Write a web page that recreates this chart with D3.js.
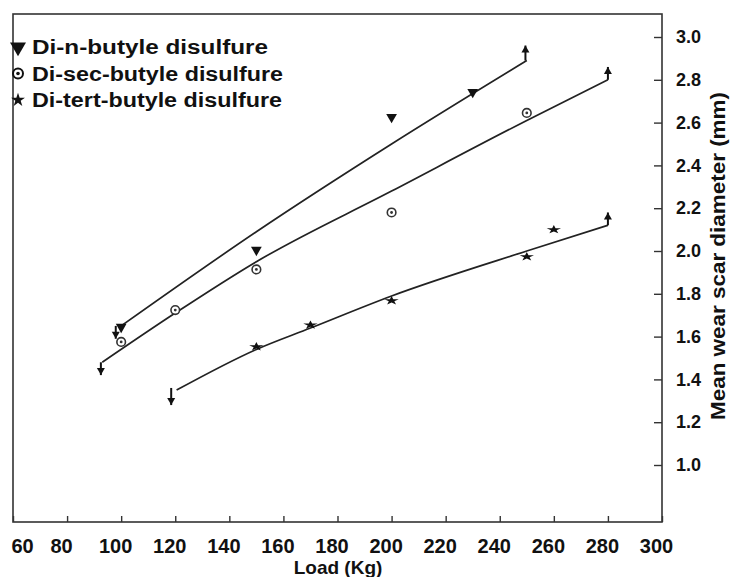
<!DOCTYPE html>
<html lang="en">
<head>
	<script src="https://d3js.org/d3.v7.min.js"></script>
	<style>
		body { margin: 0; background: #fff; }
		text { font-family: "Liberation Sans", Arial, sans-serif; fill: #111; }
	</style>
</head>
<body>
	<script type="text/javascript">

		var svgWidth = 731;
		var svgHeight = 577;

		// plot box (pixels)
		var boxLeft = 13, boxRight = 662, boxTop = 14, boxBottom = 522;

		// tick labels
		var loadTicks = [60, 80, 100, 120, 140, 160, 180, 200, 220, 240, 260, 280, 300];
		var scarTicks = [1.0, 1.2, 1.4, 1.6, 1.8, 2.0, 2.2, 2.4, 2.6, 2.8, 3.0];

		var seriesNames = ["Di-n-butyle disulfure", "Di-sec-butyle disulfure", "Di-tert-butyle disulfure"];

		// measured points [load, scar diameter]
		var nButylPoints = [[100, 1.645], [150, 2.005], [200, 2.626], [230, 2.743]];
		var secButylPoints = [[100, 1.575], [120, 1.724], [150, 1.914], [200, 2.18], [250, 2.645]];
		var tertButylPoints = [[150, 1.553], [170, 1.654], [200, 1.768], [250, 1.973], [260, 2.10]];

		// fitted curves
		var nButylFit = [[100, 1.65], [150, 2.09], [200, 2.50], [250, 2.89]];
		var secButylFit = [[93, 1.48], [120, 1.71], [150, 1.95], [200, 2.28], [250, 2.61], [280, 2.80]];
		var tertButylFit = [[120.5, 1.35], [150, 1.54], [170, 1.64], [200, 1.79], [250, 2.00], [280, 2.12]];

		// end arrows [load, from, to]
		var lowArrows = [[98, 1.65, 1.59], [92.5, 1.48, 1.42], [118.5, 1.36, 1.28]];
		var highArrows = [[249.5, 2.89, 2.96], [280, 2.80, 2.86], [280, 2.12, 2.18]];

		var svg = d3.select("body")
			.append("svg")
			.attr("width", svgWidth)
			.attr("height", svgHeight);

		var x = d3.scaleLinear()
			.domain([60, 300])
			.range([boxLeft, boxRight]);

		var y = d3.scaleLinear()
			.domain([1.0, 3.0])
			.range([465, 37]);

		//frame
		svg.append("rect")
			.attr("x", boxLeft)
			.attr("y", boxTop)
			.attr("width", boxRight - boxLeft)
			.attr("height", boxBottom - boxTop)
			.attr("fill", "none")
			.attr("stroke", "#333")
			.attr("stroke-width", 1.6);

		//bottom axis, ticks pointing inward
		var xAxis = d3.axisBottom(x)
			.tickValues(loadTicks)
			.tickSizeInner(-6)
			.tickSizeOuter(0)
			.tickPadding(17)
			.tickFormat(d3.format("d"));

		var gx = svg.append("g")
			.attr("transform", "translate(0," + boxBottom + ")")
			.call(xAxis);
		gx.select(".domain").remove();
		gx.selectAll("line").attr("stroke", "#333").attr("stroke-width", 1.4);
		gx.selectAll("text")
			.attr("dx", function(d) { return d == 60 ? 9 : -6; })
			.style("font-size", "20px")
			.style("font-weight", "bold")
			.style("font-family", "'Liberation Sans', Arial, sans-serif");

		//right axis
		var yAxis = d3.axisRight(y)
			.tickValues(scarTicks)
			.tickSizeInner(-8)
			.tickSizeOuter(0)
			.tickPadding(14)
			.tickFormat(d3.format(".1f"));

		var gy = svg.append("g")
			.attr("transform", "translate(" + boxRight + ",0)")
			.call(yAxis);
		gy.select(".domain").remove();
		gy.selectAll("line").attr("stroke", "#333").attr("stroke-width", 1.4);
		gy.selectAll("text")
			.style("font-size", "18px")
			.style("font-weight", "bold")
			.style("font-family", "'Liberation Sans', Arial, sans-serif");

		//axis titles
		svg.append("text")
			.attr("x", 338)
			.attr("y", 574)
			.attr("text-anchor", "middle")
			.style("font-size", "19px")
			.style("font-weight", "bold")
			.text("Load (Kg)");

		svg.append("text")
			.attr("transform", "translate(725,256) rotate(-90)")
			.attr("text-anchor", "middle")
			.attr("textLength", 328)
			.attr("lengthAdjust", "spacingAndGlyphs")
			.style("font-size", "21px")
			.style("font-weight", "bold")
			.text("Mean wear scar diameter (mm)");

		//fitted curves
		var fitLine = d3.line()
			.x(function(d) { return x(d[0]); })
			.y(function(d) { return y(d[1]); })
			.curve(d3.curveMonotoneX);

		svg.selectAll("path.fit")
			.data([nButylFit, secButylFit, tertButylFit])
			.enter()
			.append("path")
				.attr("class", "fit")
				.attr("d", fitLine)
				.attr("fill", "none")
				.attr("stroke", "#222")
				.attr("stroke-width", 1.7);

		//end arrows
		function drawArrow(d, up) {
			var ax = x(d[0]), y0 = y(d[1]), y1 = y(d[2]);
			svg.append("line")
				.attr("x1", ax).attr("x2", ax)
				.attr("y1", y0).attr("y2", y1)
				.attr("stroke", "#111")
				.attr("stroke-width", 2);
			var s = up ? -1 : 1;
			svg.append("path")
				.attr("d", "M" + (ax - 4) + "," + (y1 - s * 7) + "L" + (ax + 4) + "," + (y1 - s * 7) + "L" + ax + "," + y1 + "Z")
				.attr("fill", "#111");
		}
		lowArrows.forEach(function(d) { drawArrow(d, false); });
		highArrows.forEach(function(d) { drawArrow(d, true); });

		//markers
		var triangle = d3.symbol().type(d3.symbolTriangle).size(50);
		var star = d3.symbol().type(d3.symbolStar).size(38);

		svg.selectAll("path.nbut")
			.data(nButylPoints)
			.enter()
			.append("path")
				.attr("class", "nbut")
				.attr("d", triangle)
				.attr("fill", "#111")
				.attr("transform", function(d) { return "translate(" + x(d[0]) + "," + y(d[1]) + ") rotate(180)"; });

		var secG = svg.selectAll("g.sec")
			.data(secButylPoints)
			.enter()
			.append("g")
				.attr("class", "sec")
				.attr("transform", function(d) { return "translate(" + x(d[0]) + "," + y(d[1]) + ")"; });
		secG.append("circle").attr("r", 4.3).attr("fill", "#fff").attr("stroke", "#333").attr("stroke-width", 1.6);
		secG.append("circle").attr("r", 1.4).attr("fill", "#333");

		svg.selectAll("path.tert")
			.data(tertButylPoints)
			.enter()
			.append("path")
				.attr("class", "tert")
				.attr("d", star)
				.attr("fill", "#111")
				.attr("transform", function(d) { return "translate(" + x(d[0]) + "," + y(d[1]) + ") scale(1.3,0.8)"; });

		//legend
		var legendWidths = [236, 251, 250];
		var legend = svg.append("g").attr("transform", "translate(18,47)");
		var rows = legend.selectAll("g")
			.data(seriesNames)
			.enter()
			.append("g")
				.attr("transform", function(d, i) { return "translate(0," + (i * 26.5) + ")"; });

		rows.append("text")
			.attr("x", 14)
			.attr("y", 7)
			.attr("textLength", function(d, i) { return legendWidths[i]; })
			.attr("lengthAdjust", "spacingAndGlyphs")
			.style("font-size", "20px")
			.style("font-weight", "bold")
			.text(function(d) { return d; });

		rows.filter(function(d, i) { return i == 0; })
			.append("path")
			.attr("d", d3.symbol().type(d3.symbolTriangle).size(110))
			.attr("transform", "rotate(180)")
			.attr("fill", "#111");

		var lc = rows.filter(function(d, i) { return i == 1; });
		lc.append("circle").attr("r", 5).attr("fill", "none").attr("stroke", "#111").attr("stroke-width", 2);
		lc.append("circle").attr("r", 1.8).attr("fill", "#111");

		rows.filter(function(d, i) { return i == 2; })
			.append("path")
			.attr("d", d3.symbol().type(d3.symbolStar).size(60))
			.attr("fill", "#111");

	</script>
</body>
</html>
